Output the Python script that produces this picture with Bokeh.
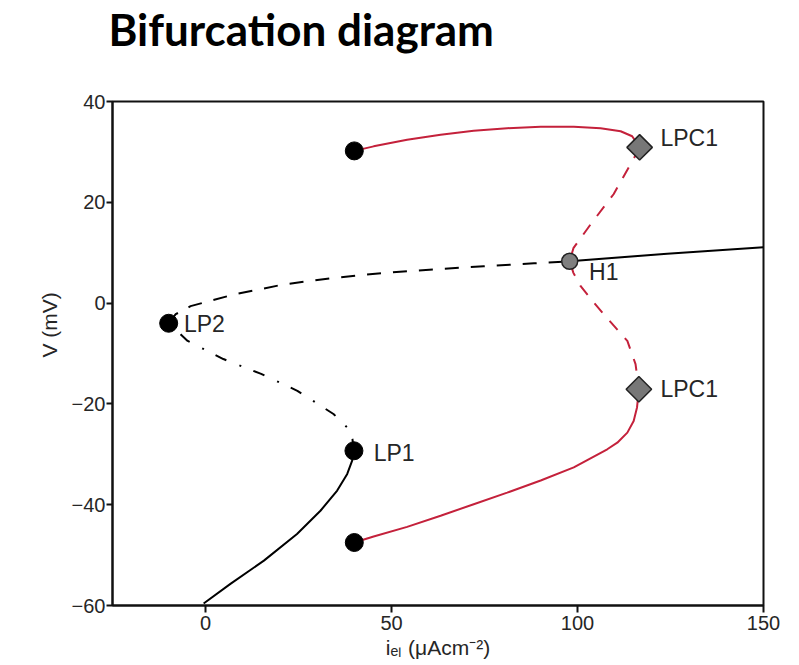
import numpy as np
from bokeh.plotting import figure
from bokeh.models import Range1d, FixedTicker, Title, ColumnDataSource
from bokeh.embed import file_html
from bokeh.resources import INLINE
from bokeh.core.properties import value

# ---- data ----
# stable low-V equilibria (solid black)
stable_low_i = [-0.5, 6.7, 15.7, 24.6, 30.9, 35.4, 38.1, 39.4, 39.9]
stable_low_v = [-59.6, -55.7, -51.1, -45.8, -41.2, -37.2, -33.9, -31.3, -29.3]
# saddle branch LP1 -> LP2 (dash-dot black)
saddle_i = [39.9, 39.5, 38.1, 34.4, 24.7, 14.8, 4.8, -4.8, -9.9]
saddle_v = [-29.3, -27.0, -24.7, -22.0, -17.4, -14.0, -11.1, -7.5, -4.0]
# unstable upper branch LP2 -> H1 (dashed black)
unstable_i = [-9.9, -8.0, -4.0, 7.6, 21.0, 34.5, 47.9, 61.4, 74.8, 88.3, 97.9]
unstable_v = [-4.0, -2.2, -0.6, 1.7, 3.7, 5.0, 6.0, 6.7, 7.3, 7.9, 8.3]
# stable upper equilibria from H1 (solid black)
stable_up_i = [97.9, 124.1, 150.0]
stable_up_v = [8.3, 9.8, 11.1]
# stable periodic orbit maximum (solid red)
po_max_i = [40.0, 45.2, 54.2, 63.2, 72.1, 81.1, 90.1, 99.0, 106.2, 111.6, 114.7, 116.7]
po_max_v = [30.2, 31.1, 32.4, 33.4, 34.2, 34.7, 35.0, 35.0, 34.7, 34.1, 33.1, 30.9]
# unstable periodic orbit (dashed red) LPC1 -> H1 -> LPC1
upo_i = [116.7, 115.0, 109.7, 103.5, 98.9, 97.9, 98.9, 100.8, 104.5, 108.0, 113.4, 115.6, 116.5]
upo_v = [30.9, 28.5, 21.6, 15.6, 10.9, 8.3, 6.0, 3.4, 0.0, -3.0, -7.5, -12.1, -17.1]
# stable periodic orbit minimum (solid red)
po_min_i = [116.5, 116.0, 115.1, 113.4, 110.7, 108.0, 103.5, 99.0, 90.1, 81.1, 72.1, 63.2, 54.2, 45.2, 40.0]
po_min_v = [-17.1, -20.7, -23.4, -25.7, -27.7, -29.0, -30.8, -32.6, -35.2, -37.6, -39.9, -42.2, -44.4, -46.3, -47.5]

# special points
end_i = [40.0, 40.0]
end_v = [30.2, -47.5]
lp_names = ["LP1", "LP2"]
lp_i = [39.9, -9.9]
lp_v = [-29.3, -4.0]
h_names = ["H1"]
h_i = [97.9]
h_v = [8.3]
lpc_names = ["LPC1", "LPC1"]
lpc_i = [116.7, 116.5]
lpc_v = [30.9, -17.1]

x_ticks = [0, 50, 100, 150]
y_ticks = [-60, -40, -20, 0, 20, 40]

RED = "#c4213b"
TXT = "#262626"

p = figure(width=799, height=665, x_range=Range1d(-25, 150), y_range=Range1d(-60, 40),
           output_backend="svg", toolbar_location=None, title=None,
           min_border_left=112, min_border_right=36, min_border_top=100, min_border_bottom=60)
p.background_fill_color = "white"
p.border_fill_color = "white"
p.grid.visible = False
p.outline_line_color = "#111111"
p.outline_line_width = 2

# spacer between frame and title, then the title itself (further out)
p.add_layout(Title(text=" ", text_font_size="1px", standoff=44), "above")
p.add_layout(Title(text="Bifurcation diagram", text_font="Lato", text_font_style="bold",
                   text_font_size="44px", text_color="black", align="left", offset=-4,
                   standoff=0), "above")

for ax in (p.xaxis[0], p.yaxis[0]):
    ax.axis_line_width = 2
    ax.axis_line_color = "#111111"
    ax.major_tick_line_width = 2
    ax.major_tick_line_color = "#111111"
    ax.major_tick_in = 0
    ax.minor_tick_line_color = None
    ax.major_label_text_font = "Liberation Sans"
    ax.major_label_text_font_size = "20px"
    ax.major_label_text_color = TXT
p.xaxis.ticker = FixedTicker(ticks=x_ticks)
p.yaxis.ticker = FixedTicker(ticks=y_ticks)
p.xaxis.major_tick_out = 7
p.yaxis.major_tick_out = 6
p.xaxis.major_label_standoff = 3
p.yaxis.major_label_standoff = 1
p.xaxis.axis_label = "iₑₗ (μAcm⁻²)"
p.xaxis.axis_label_text_font = "Liberation Sans"
p.xaxis.axis_label_text_font_style = "normal"
p.xaxis.axis_label_text_font_size = "21px"
p.xaxis.axis_label_text_color = TXT
p.xaxis.axis_label_standoff = 3

# y-axis label as a left-side title, placed like the reference
p.add_layout(Title(text="V (mV)", align="left", offset=248, standoff=16,
                   text_font="Liberation Sans", text_font_style="normal",
                   text_font_size="21px", text_color=TXT), "left")

# curves
p.line(stable_low_i, stable_low_v, line_color="black", line_width=2)
p.line(saddle_i, saddle_v, line_color="black", line_width=2, line_dash="12 13 2 14")
p.line(unstable_i, unstable_v, line_color="black", line_width=2, line_dash="14 12")
p.line(stable_up_i, stable_up_v, line_color="black", line_width=2)
p.line(po_max_i, po_max_v, line_color=RED, line_width=2)
p.line(upo_i, upo_v, line_color=RED, line_width=2, line_dash="12 11")
p.line(po_min_i, po_min_v, line_color=RED, line_width=2)

# markers
p.scatter(end_i, end_v, marker="circle", size=18, fill_color="black", line_color="black")
p.scatter(lp_i, lp_v, marker="circle", size=18, fill_color="black", line_color="black")
p.scatter(h_i, h_v, marker="circle", size=16, fill_color="#7f7f7f", line_color="#222222", line_width=1.5)
p.scatter(lpc_i, lpc_v, marker="square", angle=np.pi / 4, size=18,
          fill_color="#777777", line_color="#222222", line_width=1.5)

# point labels
lab_src = ColumnDataSource(dict(
    name=lp_names + h_names + lpc_names,
    x=[45.2, -5.8, 103.1, 122.3, 122.3],
    y=[-29.8, -4.2, 6.2, 32.7, -17.1],
))
p.text(x="x", y="y", text="name", source=lab_src, text_font=value("Liberation Sans"),
       text_font_size="23px", text_color=TXT, text_align="left", text_baseline="middle")

open("out.html", "w").write(file_html(p, INLINE))
